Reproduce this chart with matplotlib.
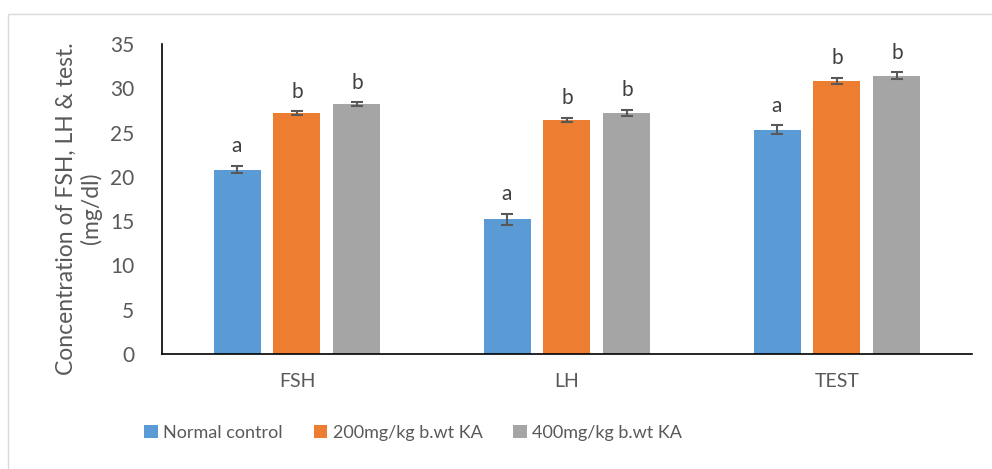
import matplotlib.pyplot as plt
from matplotlib.patches import Rectangle
import numpy as np

plt.rcParams['font.family'] = ['Lato', 'DejaVu Sans']

categories = ['FSH', 'LH', 'TEST']
groups = ['Normal control', '200mg/kg b.wt KA', '400mg/kg b.wt KA']
values = [
    [20.8, 15.2, 25.3],
    [27.2, 26.4, 30.8],
    [28.2, 27.2, 31.4],
]
errors = [
    [0.4, 0.6, 0.5],
    [0.2, 0.25, 0.35],
    [0.2, 0.35, 0.4],
]
letters = [
    ['a', 'a', 'a'],
    ['b', 'b', 'b'],
    ['b', 'b', 'b'],
]
colors = ['#5B9BD5', '#ED7D31', '#A5A5A5']
text_color = '#595959'

fig = plt.figure(figsize=(9.92, 4.69), dpi=100)
fig.patches.append(Rectangle((8 / 992, -0.1), 1.2, 1 - 14 / 469 + 0.1,
                             transform=fig.transFigure, fill=False,
                             edgecolor='#D9D9D9', linewidth=1))
ax = fig.add_axes([0.1633, 0.2452, 0.8165, 0.661])

x = np.arange(len(categories))
width = 0.174
offset = 0.222
for i, g in enumerate(groups):
    pos = x + (i - 1) * offset
    ax.bar(pos, values[i], width, color=colors[i], label=g,
           yerr=errors[i], capsize=4,
           error_kw=dict(ecolor='#595959', elinewidth=1.5, capthick=1.5))
    for p, v, e, t in zip(pos, values[i], errors[i], letters[i]):
        ax.text(p, v + e + 1.1, t, ha='center', va='bottom',
                fontsize=15, color='#404040')

ax.set_xlim(-0.5, 2.5)
ax.set_ylim(0, 35)
ax.set_yticks(range(0, 36, 5))
ax.set_xticks(x)
ax.set_xticklabels(categories)
ax.tick_params(axis='both', length=0, labelsize=14, colors=text_color)
ax.tick_params(axis='y', labelsize=15, pad=20)
ax.tick_params(axis='x', pad=14)
for s in ['top', 'right']:
    ax.spines[s].set_visible(False)
ax.spines['left'].set_color('black')
ax.spines['bottom'].set_color('black')
ax.spines['left'].set_linewidth(1.2)
ax.spines['bottom'].set_linewidth(1.2)

ax.set_ylabel('Concentration of FSH, LH & test.\n(mg/dl)', fontsize=16.5,
              color=text_color, linespacing=1.15)
ax.yaxis.set_label_coords(-0.074, 0.47)

ax.legend(loc='center', bbox_to_anchor=(0.31, -0.255), ncol=3, frameon=False,
          fontsize=13, labelcolor=text_color, handlelength=0.75,
          handleheight=0.75, handletextpad=0.3, columnspacing=1.7)

fig.savefig('out.png', dpi=100)
